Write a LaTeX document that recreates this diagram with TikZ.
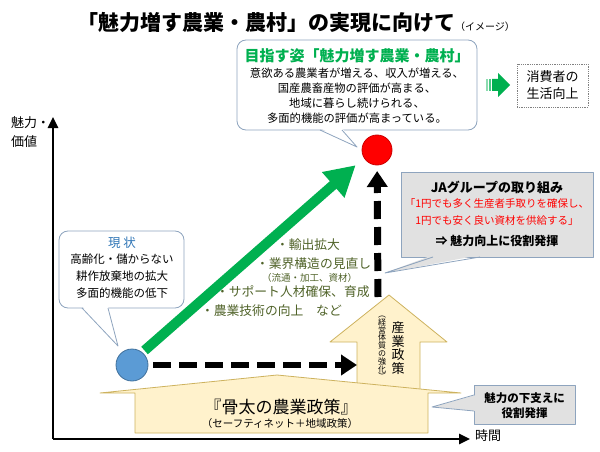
\documentclass[tikz,border=0pt]{standalone}
\usepackage{fontspec}
\setmainfont{Noto Sans CJK JP}
\usetikzlibrary{arrows.meta,positioning,calc}
\definecolor{kgreen}{HTML}{00B050}
\definecolor{kblue}{HTML}{5B9BD5}
\definecolor{kblueline}{HTML}{41719C}
\definecolor{kred}{HTML}{FF0000}
\definecolor{kframe}{HTML}{8EA4BE}
\definecolor{kcream}{HTML}{FFF2CC}
\definecolor{kgold}{HTML}{CDB25E}
\definecolor{kgray}{HTML}{E1E1E1}
\definecolor{kolive}{HTML}{4F6228}
\definecolor{ktitleblue}{HTML}{2E75B6}

\begin{document}
\begin{tikzpicture}
[x=1pt, y=-1pt, line join=round,
every node/.style={inner sep=0pt, outer sep=0pt},
bubble/.style={draw=kframe, fill=white, line width=0.8pt, rounded corners=9pt},
graybox/.style={draw=kframe, fill=kgray, line width=0.8pt},
policy/.style={draw=kgold, fill=kcream, line width=0.8pt},
axis/.style={line width=2.5pt, -{Triangle[length=11pt,width=10pt]}},
dasharrow/.style={line width=6pt, dash pattern=on 18pt off 8pt, -{Triangle[length=16pt,width=20pt]}},
bullet/.style={anchor=west, text=kolive, font=\fontsize{12.8}{12.8}\selectfont}]

\useasboundingbox (0,0) rectangle (600,452);

% title
\node[font=\bfseries\fontsize{21}{21}\selectfont] (title) at (296,22) {「魅力増す農業・農村」の実現に向けて{\mdseries\fontsize{10}{10}\selectfont（イメージ）}};

% axes
\coordinate (origin) at (53,439);
\draw[axis] (origin) -- (53,117);
\draw[axis] (origin) -- (470,439);
\node[anchor=west, align=left, font=\fontsize{13}{19}\selectfont] (ylab) at (11,132) {魅力・\\価値};
\node[font=\fontsize{13}{13}\selectfont] (xlab) at (488,436) {時間};

% industry policy arrow and base policy house
\draw[policy] (357,395) -- (357,342) -- (330,342) -- (389,295) -- (447,342) -- (420,342) -- (420,395) -- cycle;
\draw[policy] (135,433) -- (135,393) -- (100,393) -- (277,375) -- (461,393) -- (428,393) -- (428,433) -- cycle;
\node[font=\fontsize{17}{17}\selectfont] (core) at (281,407) {『骨太の農業政策』};
\node[font=\fontsize{10.5}{10.5}\selectfont] (corenote) at (280,424) {（セーフティネット＋地域政策）};
\node[align=center, font=\fontsize{13}{13.5}\selectfont] (ind) at (398,348) {産\\業\\政\\策};
\node[align=center, font=\fontsize{8}{7.8}\selectfont] (indnote) at (382,348) {︵\\経\\営\\体\\質\\の\\強\\化\\︶};

% goal callout
\node[bubble, minimum width=240pt, minimum height=90pt] (vision) at (357,85) {};
\fill[white] (320,128) -- (357,147) -- (342,128) -- cycle;
\draw[kframe, line width=0.8pt] (320,130) -- (357,147) -- (342,130);
\node[font=\bfseries\fontsize{15}{15}\selectfont, text=kgreen] (visiontitle) at (357,56) {目指す姿「魅力増す農業・農村」};
\node[align=center, font=\fontsize{11.3}{15}\selectfont] (visionbody) at (357,96) {意欲ある農業者が増える、収入が増える、\\国産農畜産物の評価が高まる、\\地域に暮らし続けられる、\\多面的機能の評価が高まっている。};

% consumers
\fill[kgreen!45] (486,79) rectangle (488,91);
\fill[kgreen!70] (489,79) rectangle (491,91);
\fill[kgreen] (492,79) -- (498,79) -- (498,73) -- (510,85) -- (498,97) -- (498,91) -- (492,91) -- cycle;
\node[draw=gray, densely dotted, line width=0.8pt, minimum width=71pt, minimum height=43pt, align=center, font=\fontsize{13}{17}\selectfont] (consumer) at (552.5,85.5) {消費者の\\生活向上};

% present callout
\node[bubble, minimum width=125pt, minimum height=77pt] (present) at (121.5,269.5) {};
\fill[white] (82,306) -- (118,346) -- (108,306) -- cycle;
\draw[kframe, line width=0.8pt] (82,308) -- (118,346) -- (108,308);
\node[text=ktitleblue, font=\fontsize{12.5}{12.5}\selectfont] (presenttitle) at (122,243) {現 状};
\node[align=center, font=\fontsize{11.5}{17}\selectfont] (presentbody) at (122,276) {高齢化・儲からない\\耕作放棄地の拡大\\多面的機能の低下};

% measures
\node[bullet] (b1) at (276,245) {・輸出拡大};
\node[bullet] (b2) at (256,264) {・業界構造の見直し};
\node[bullet, font=\fontsize{9.5}{9.5}\selectfont] (b3) at (262,278) {（流通・加工、資材）};
\node[bullet] (b4) at (216,292) {・サポート人材確保、育成};
\node[bullet] (b5) at (201,311) {・農業技術の向上　など};

% JA callout
\node[graybox, minimum width=192pt, minimum height=85pt] (ja) at (497,214.5) {};
\fill[kgray] (433,255) -- (385,273) -- (480,255) -- cycle;
\draw[kframe, line width=0.8pt] (433,257) -- (385,273) -- (480,257);
\node[font=\bfseries\fontsize{13}{13}\selectfont] (jatitle) at (497,187) {JAグループの取り組み};
\node[align=center, text=kred, font=\fontsize{10.5}{17}\selectfont] (japledge) at (497,212.5) {「1円でも多く生産者手取りを確保し、\\1円でも安く良い資材を供給する」};
\node[font=\bfseries\fontsize{12}{12}\selectfont] (jarole) at (497,241) {⇒ 魅力向上に役割発揮};

% support callout
\node[graybox, minimum width=101pt, minimum height=39pt] (support) at (524.5,404.5) {};
\fill[kgray] (476,395) -- (432,407) -- (476,411) -- cycle;
\draw[kframe, line width=0.8pt] (474,395) -- (432,407) -- (474,411);
\node[align=center, font=\bfseries\fontsize{11.5}{15.5}\selectfont] (supporttext) at (524.5,405.5) {魅力の下支えに\\役割発揮};

% present and goal
\node[circle, fill=kblue, draw=kblueline, line width=0.8pt, minimum size=32pt] (now) at (132,365) {};
\node[circle, fill=kred, draw=red!80!black, line width=0.8pt, minimum size=30pt] (goal) at (377,150) {};

\coordinate (indtop) at (378,297);
\coordinate (hend) at (357,365);
\draw[kgreen, line width=10pt, -{Triangle[length=30pt,width=32pt]}, shorten <=6pt, shorten >=8pt, transform canvas={xshift=-4pt}] (now) -- (goal);
\draw[dasharrow, line width=7pt, shorten >=6pt] (indtop) -- (goal);
\draw[dasharrow, shorten <=5pt] (now) -- (hend);
\end{tikzpicture}
\end{document}
